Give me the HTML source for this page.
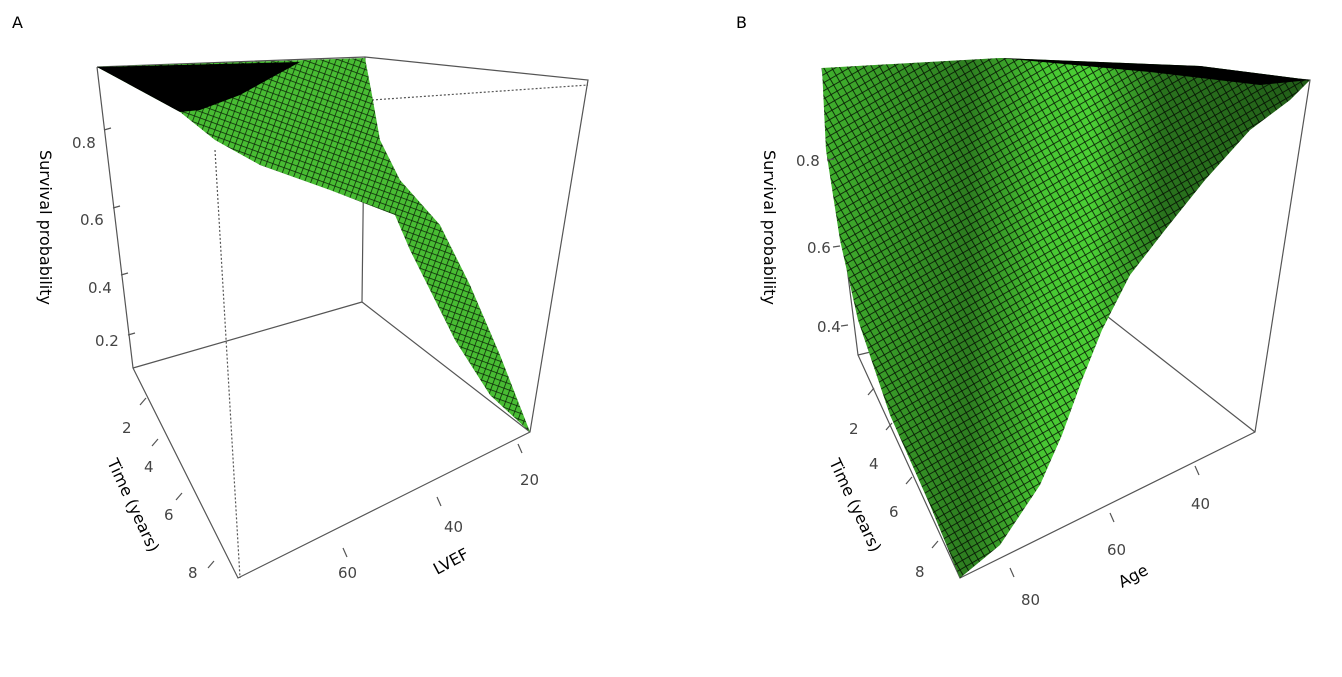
<!DOCTYPE html>
<html><head><meta charset="utf-8"><style>
body{margin:0;background:#fff}
svg text{font-family:"DejaVu Sans","Liberation Sans",sans-serif;fill:#444;font-size:15px}
.lab{fill:#000;font-size:16px}
</style></head><body>
<svg width="1342" height="672" viewBox="0 0 1342 672" xmlns="http://www.w3.org/2000/svg">
<defs>
<pattern id="g" width="6" height="6" patternUnits="userSpaceOnUse" patternTransform="rotate(20)">
<rect width="6" height="6" fill="#55dd3c"/><path d="M0 0H6M0 0V6" stroke="#0d2a08" stroke-width="1.5"/>
</pattern>
<pattern id="g2" width="7" height="7" patternUnits="userSpaceOnUse" patternTransform="rotate(-30)">
<rect width="7" height="7" fill="#4bd035"/><path d="M0 0H7M0 0V7" stroke="#0c2607" stroke-width="1.8"/>
</pattern>
<linearGradient id="sh" x1="0" y1="0" x2="1" y2="0">
<stop offset="0" stop-color="#000" stop-opacity="0.15"/><stop offset="0.3" stop-color="#000" stop-opacity="0.4"/>
<stop offset="0.45" stop-color="#000" stop-opacity="0.05"/><stop offset="0.55" stop-color="#000" stop-opacity="0"/>
<stop offset="0.7" stop-color="#000" stop-opacity="0.45"/><stop offset="1" stop-color="#000" stop-opacity="0.55"/>
</linearGradient>
</defs>
<text x="12" y="28" class="lab">A</text>
<text x="736" y="28" class="lab">B</text>
<g stroke="#555" fill="none" stroke-width="1.2">
<path d="M97 67L133 368L238 578L530 432L588 80L365 57L97 67"/>
<path d="M365 57L362 302L133 368M362 302L530 432"/>
<path d="M215 150L240 578M372 100L588 85" stroke-dasharray="2 2"/>
</g>
<path d="M97 67L365 58L372 95L380 140L400 180L440 225L470 285L500 355L530 432L490 395L455 340L430 290L410 250L395 215L330 190L260 165L215 140L180 112Z" fill="url(#g)"/>
<path d="M97 67L365 58L372 95L380 140L400 180L440 225L470 285L500 355L530 432L490 395L455 340L430 290L410 250L395 215L330 190L260 165L215 140L180 112Z" fill="#000" opacity="0.15"/>
<path d="M97 67L300 62L240 95L200 110L180 112Z" fill="#000"/>
<g stroke="#555" stroke-width="1.2">
<path d="M104 130L111 128M113 208L120 206M121 275L128 273M128 335L135 333M140 405L146 398M152 446L158 439M176 500L182 493M208 568L214 561M343 548L347 557M437 497L441 506M518 444L522 453"/>
</g>
<text x="72" y="148">0.8</text><text x="80" y="225">0.6</text><text x="88" y="293">0.4</text><text x="95" y="346">0.2</text>
<text x="122" y="433">2</text><text x="144" y="472">4</text><text x="164" y="520">6</text><text x="188" y="578">8</text>
<text x="338" y="578">60</text><text x="444" y="532">40</text><text x="520" y="485">20</text>
<text class="lab" transform="translate(40,150) rotate(90)">Survival probability</text>
<text class="lab" transform="translate(107,462) rotate(65)">Time (years)</text>
<text class="lab" transform="translate(437,575) rotate(-28)">LVEF</text>
<g stroke="#555" fill="none" stroke-width="1.2">
<path d="M822 68L858 355L960 578L1255 432L1310 80L1080 62"/>
<path d="M1080 295L1255 432M858 355L900 345"/>
</g>
<path d="M822 68L1000 58L1200 66L1310 80L1290 100L1250 130L1205 180L1165 230L1130 275L1102 330L1082 380L1062 435L1040 485L1000 545L960 578L930 505L890 415L858 320L840 240L826 150Z" fill="url(#g2)"/>
<path d="M822 68L1000 58L1200 66L1310 80L1290 100L1250 130L1205 180L1165 230L1130 275L1102 330L1082 380L1062 435L1040 485L1000 545L960 578L930 505L890 415L858 320L840 240L826 150Z" fill="url(#sh)"/>
<path d="M1000 58L1200 66L1310 80L1260 85L1150 72Z" fill="#000"/>
<g stroke="#555" stroke-width="1.2">
<path d="M827 160L834 159M833 247L840 246M841 326L848 325M868 395L874 388M886 430L892 423M906 484L912 477M932 548L938 541M1010 568L1014 577M1110 513L1114 522M1195 466L1199 475"/>
</g>
<text x="796" y="166">0.8</text><text x="807" y="253">0.6</text><text x="817" y="332">0.4</text>
<text x="849" y="434">2</text><text x="869" y="469">4</text><text x="889" y="517">6</text><text x="915" y="577">8</text>
<text x="1021" y="605">80</text><text x="1107" y="555">60</text><text x="1191" y="509">40</text>
<text class="lab" transform="translate(764,150) rotate(90)">Survival probability</text>
<text class="lab" transform="translate(829,462) rotate(65)">Time (years)</text>
<text class="lab" transform="translate(1122,588) rotate(-28)">Age</text>
</svg>
</body></html>
